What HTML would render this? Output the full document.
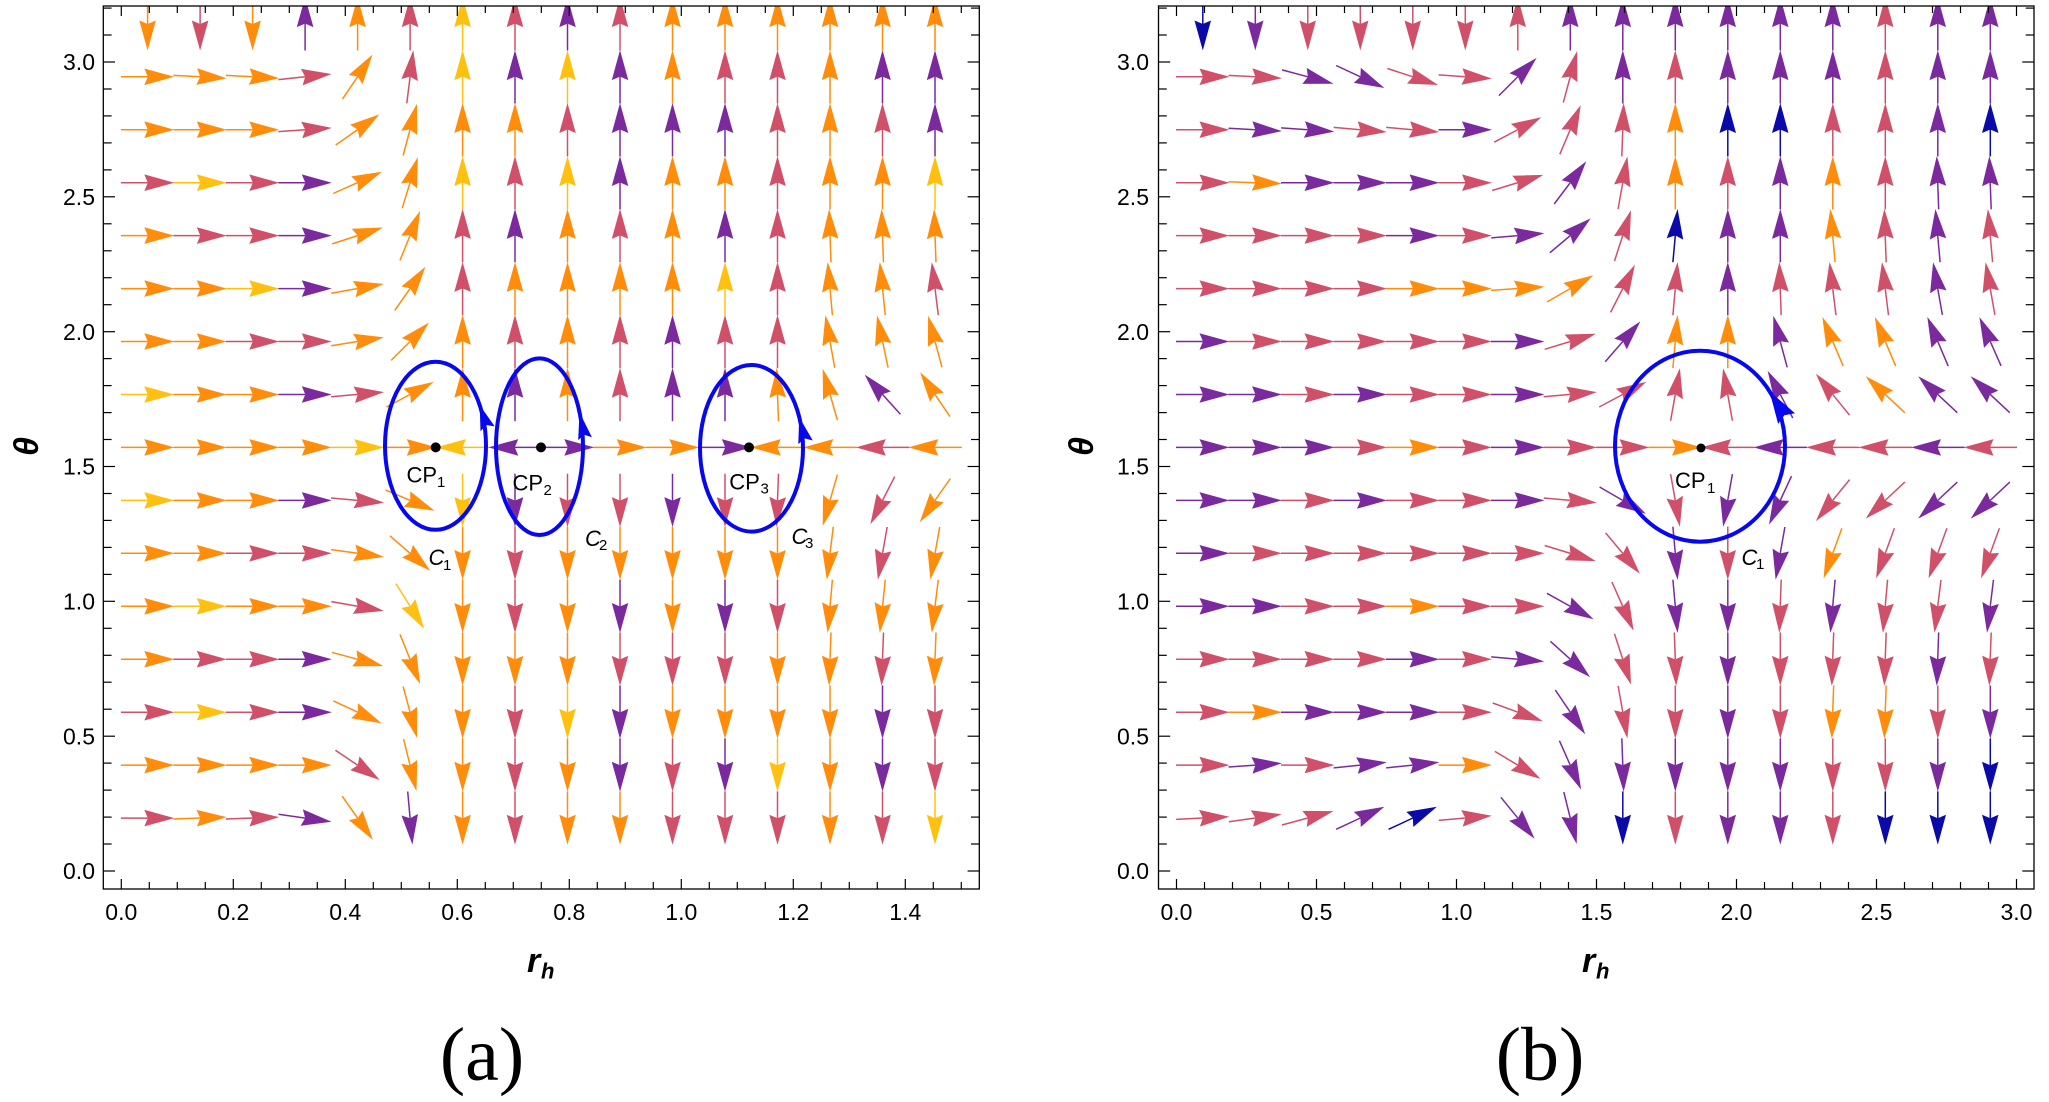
<!DOCTYPE html>
<html><head><meta charset="utf-8">
<style>
html,body{margin:0;padding:0;background:#fff;}
svg{display:block;}
.t{font-family:"Liberation Sans",sans-serif;font-size:23px;fill:#000;}
.l{font-family:"Liberation Sans",sans-serif;fill:#000;}
.cap{font-family:"Liberation Serif",serif;font-size:76px;fill:#000;}
</style></head><body>
<svg id="s" width="2049" height="1102" viewBox="0 0 2049 1102" xmlns="http://www.w3.org/2000/svg">
<defs>
<clipPath id="ca"><rect x="103.3" y="6" width="876" height="883"/></clipPath>
<clipPath id="cb"><rect x="1158.5" y="6" width="875.5" height="883"/></clipPath>
</defs>
<rect width="2049" height="1102" fill="#fff"/>
<g id="ga" clip-path="url(#ca)"></g>
<g id="gb" clip-path="url(#cb)"></g>
<g id="ticks" stroke="#000" stroke-width="1.2"></g>
<rect x="103.3" y="6" width="876" height="883" fill="none" stroke="#000" stroke-width="1.3"/>
<rect x="1158.5" y="6" width="875.5" height="883" fill="none" stroke="#000" stroke-width="1.3"/>

<!-- contours -->
<g fill="none" stroke="#0808ee" stroke-width="4">
<ellipse cx="435.5" cy="445.8" rx="50.5" ry="84"/>
<ellipse cx="539.5" cy="446.7" rx="43.5" ry="88.3"/>
<ellipse cx="751.5" cy="448.3" rx="51.5" ry="83.3"/>
<ellipse cx="1700" cy="446.2" rx="85" ry="95.5"/>
</g>
<g id="heads" fill="#0808ee"></g>
<g fill="#000">
<circle cx="435.7" cy="447.4" r="5"/>
<circle cx="541" cy="447.4" r="5"/>
<circle cx="749" cy="447.4" r="5"/>
<circle cx="1701" cy="448" r="4.5"/>
</g>

<!-- CP labels -->
<text class="l" x="406.5" y="482.7" font-size="22">CP</text><text class="l" x="437" y="487" font-size="15">1</text>
<text class="l" x="512.5" y="490.7" font-size="22">CP</text><text class="l" x="543.5" y="495" font-size="15">2</text>
<text class="l" x="729.3" y="489.3" font-size="22">CP</text><text class="l" x="760.5" y="493.5" font-size="15">3</text>
<text class="l" x="1675" y="488" font-size="22">CP</text><text class="l" x="1707" y="493" font-size="15">1</text>
<!-- C labels -->
<text class="l" x="428.5" y="565" font-size="22" font-style="italic">C</text><text class="l" x="443" y="570" font-size="15">1</text>
<text class="l" x="585" y="546" font-size="22" font-style="italic">C</text><text class="l" x="599" y="550" font-size="15">2</text>
<text class="l" x="791.5" y="544" font-size="22" font-style="italic">C</text><text class="l" x="805" y="548" font-size="15">3</text>
<text class="l" x="1741.5" y="565" font-size="22" font-style="italic">C</text><text class="l" x="1756" y="569" font-size="15">1</text>

<!-- y tick labels -->
<g class="t" text-anchor="end">
<text x="95" y="879.2">0.0</text><text x="95" y="744.4">0.5</text><text x="95" y="609.5">1.0</text><text x="95" y="474.7">1.5</text><text x="95" y="339.9">2.0</text><text x="95" y="205">2.5</text><text x="95" y="70.2">3.0</text>
<text x="1149" y="879.2">0.0</text><text x="1149" y="744.4">0.5</text><text x="1149" y="609.5">1.0</text><text x="1149" y="474.7">1.5</text><text x="1149" y="339.9">2.0</text><text x="1149" y="205">2.5</text><text x="1149" y="70.2">3.0</text>
</g>
<!-- x tick labels -->
<g class="t" text-anchor="middle">
<text x="121.3" y="920">0.0</text><text x="233.3" y="920">0.2</text><text x="345.3" y="920">0.4</text><text x="457.3" y="920">0.6</text><text x="569.3" y="920">0.8</text><text x="681.3" y="920">1.0</text><text x="793.3" y="920">1.2</text><text x="905.3" y="920">1.4</text>
<text x="1176.5" y="920">0.0</text><text x="1316.5" y="920">0.5</text><text x="1456.5" y="920">1.0</text><text x="1596.5" y="920">1.5</text><text x="1736.5" y="920">2.0</text><text x="1876.5" y="920">2.5</text><text x="2016.5" y="920">3.0</text>
</g>
<!-- axis labels -->
<text class="l" transform="translate(25,446.5) rotate(-90)" x="0" y="13" font-size="34" font-weight="bold" font-style="italic" text-anchor="middle">θ</text>
<text class="l" transform="translate(1080,446.5) rotate(-90)" x="0" y="13" font-size="34" font-weight="bold" font-style="italic" text-anchor="middle">θ</text>
<text class="l" x="527" y="972" font-size="34" font-weight="bold" font-style="italic">r</text><text class="l" x="541" y="978.3" font-size="22" font-weight="bold" font-style="italic">h</text>
<text class="l" x="1582" y="972" font-size="34" font-weight="bold" font-style="italic">r</text><text class="l" x="1596" y="978.3" font-size="22" font-weight="bold" font-style="italic">h</text>
<!-- captions -->
<text class="cap" x="482" y="1080" text-anchor="middle">(a)</text>
<text class="cap" x="1540" y="1080" text-anchor="middle">(b)</text>
</svg>
<script>
(function(){
const NS='http://www.w3.org/2000/svg';
const COL={o:'#FF8C0A',y:'#FFC00F',p:'#D0506A',u:'#7B2A9E',b:'#0A0AA8'};
function el(tag,attrs,parent){const e=document.createElementNS(NS,tag);for(const k in attrs)e.setAttribute(k,attrs[k]);parent.appendChild(e);return e;}
function f(v){return v.toFixed(1);}
function arrow(g,cx,cy,ang,col){
  const r=ang*Math.PI/180, dx=Math.cos(r), dy=-Math.sin(r), nx=-dy, ny=dx;
  const H=26.7, tx=cx+H*dx, ty=cy+H*dy, bx=cx-H*dx, by=cy-H*dy;
  const hl=30, hw=8.3, nd=26.5;
  el('line',{x1:f(bx),y1:f(by),x2:f(tx-nd*dx),y2:f(ty-nd*dy),stroke:col,'stroke-width':1.5},g);
  const p=[[tx,ty],[tx-hl*dx+hw*nx,ty-hl*dy+hw*ny],[tx-nd*dx,ty-nd*dy],[tx-hl*dx-hw*nx,ty-hl*dy-hw*ny]];
  el('polygon',{points:p.map(q=>f(q[0])+','+f(q[1])).join(' '),fill:col},g);
}
const V=(a,b)=>Array(b).fill(a);
const A_a=[
 [-90,-90,-90,90,90,90,90,90,90,90,90,90,90,90,90,90],
 [0,-3,-3,6,56,83,90,90,90,90,90,90,90,90,90,90],
 [0,0,0,4,35,75,90,90,90,90,90,90,90,90,90,90],
 [0,0,0,0,24,73,90,90,90,90,90,90,90,90,90,90],
 [0,0,0,0,18,68,90,90,90,90,90,90,90,92,92,92],
 [0,0,0,0,10,55,90,90,90,90,90,90,90,95,96,97],
 [0,0,0,0,9,45,90,90,90,90,90,90,90,100,102,105],
 [0,0,0,0,5,28,90,90,90,90,90,90,92,106,132,124],
 [0,0,0,0,0,0,180,180,0,0,0,0,180,180,180,180],
 [0,0,0,0,-5,-23,-90,-90,-90,-90,-90,-90,-92,-106,-117,-125],
 [0,0,0,0,-8,-41,-90,-90,-90,-90,-90,-90,-90,-97,-100,-100],
 [0,0,0,0,-10,-58,-90,-90,-90,-90,-90,-90,-90,-95,-96,-97],
 [0,0,0,0,-15,-68,-90,-90,-90,-90,-90,-90,-90,-92,-92,-92],
 [0,0,0,0,-25,-75].concat(V(-90,10)),
 [0,0,0,0,-34,-76].concat(V(-90,10)),
 [0,2,2,-8,-55,-85].concat(V(-90,10))
];
const C_a=["opouopypupoooooo","ooopopyuyuoppouu","ooopoooopuuupopu","pypuooypyuoopooy",
 "oppuoopuopoupooo","ooyuoopooooypoop","ooppooopopuppooo","yooupoouopuuoouo",
 "ooooyoyuuoouoopo","yooupoyuppuppopo","ooppooopoooooopo","oyoopyopououpooo",
 "oppuooooopppoopo","pypuooopyuooooup","oooopoopoupuyoup","popuouopoopppopy"];
const A_b=[
 V(-90,6).concat(V(90,10)),
 [0,-3,-15,-25,-18,-4,45,75,90,90,90,90,90,90,90,90],
 [0,-3,-4,-5,-5,0,28,67,88,90,90,90,90,90,90,90],
 [0,-2,0,0,0,0,17,53,80,90,90,90,90,90,92,92],
 [0,0,0,0,0,0,5,40,72,85,90,90,95,92,95,95],
 [0,0,0,0,0,0,4,30,63,85,90,92,97,97,100,100],
 [0,0,0,0,0,0,0,17,49,85,90,105,113,113,113,114],
 [0,0,0,0,0,0,0,5,28,80,100,118,129,137,137,137],
 V(0,10).concat(V(180,6)),
 [0,0,0,0,0,0,0,-5,-30,-80,-100,-115,-129,-137,-137,-137],
 [0,0,0,0,0,0,0,-17,-50,-85,-90,-100,-110,-110,-110,-110],
 [0,0,0,0,0,0,0,-29,-66,-85,-90,-92,-95,-95,-97,-97],
 [0,0,0,0,0,0,-5,-42,-72,-88,-90,-90,-92,-92,-92,-92],
 [0,0,0,0,0,0,-20,-56,-80,-90,-90,-90,-92,-92,-90,-90],
 [0,4,0,6,6,0,-31,-66,-88,-90,-90,-90,-90,-90,-90,-90],
 [3,8,15,25,25,5,-51,-76,-90,-90,-90,-90,-90,-90,-90,-90]
];
const C_b=["bupppppuuuuuupuu","ppuuppupupuuupuu","puuppupppobbppub","pouuuppupopuopuu",
 "ppppupuupbuuopup","ppppooooppupppup","upppppupuoouoouu","uupuppuppppupouu",
 "uuupopuppopuppup","uupuppupupuuppuu","uppppppppupuoppp","uuppoppupuupuppu",
 "ppppupuuppupppup","pouuuppuppupoopu","pupuuopuuuuuppub","pppubpuubpuupbbb"];
function panel(gid,x0,A,C){
  const g=document.getElementById(gid);
  for(let i=0;i<16;i++){
    const k=16-i, y=871-k*52.949;
    for(let c=0;c<16;c++){
      const x=x0+(c+0.5)*52.5;
      arrow(g,x,y,A[i][c],COL[C[i][c]]||COL.o);
    }
  }
}
panel('ga',121.3,A_a,C_a);
panel('gb',1176.5,A_b,C_b);

// ticks
const T=document.getElementById('ticks');
function ln(x1,y1,x2,y2){el('line',{x1:f(x1),y1:f(y1),x2:f(x2),y2:f(y2)},T);}
function yt(L,R){
  for(let i=0;i<=32;i++){const y=871-26.967*i;if(y<6)break;const len=(i%5==0)?11.7:8.3;ln(L,y,L+len,y);ln(R,y,R-len,y);}
}
yt(103.3,979.3); yt(1158.5,2034);
for(let i=0;i<=30;i++){const x=121.3+28*i;const len=(i%4==0)?10:7;ln(x,889,x,889-len);ln(x,6,x,6+len);}
for(let i=0;i<=30;i++){const x=1176.5+28*i;const len=(i%5==0)?10:7;ln(x,889,x,889-len);ln(x,6,x,6+len);}

// contour arrowheads
const HG=document.getElementById('heads');
function eh(cx,cy,rx,ry,td,L,hw){
  const t=td*Math.PI/180;
  const px=cx+rx*Math.cos(t), py=cy-ry*Math.sin(t);
  let tx=-rx*Math.sin(t), ty=-ry*Math.cos(t); const n=Math.hypot(tx,ty); tx/=n; ty/=n;
  const nx=-ty, ny=tx;
  const bx=px-L*tx, by=py-L*ty, mx=px-(L-4)*tx, my=py-(L-4)*ty;
  el('polygon',{points:[[px,py],[bx+hw*nx,by+hw*ny],[mx,my],[bx-hw*nx,by-hw*ny]].map(q=>f(q[0])+','+f(q[1])).join(' ')},HG);
}
eh(435.5,445.8,50.5,84,29,25,7.5);
eh(539.5,446.7,43.5,88.3,23,27,7);
eh(751.5,448.3,51.5,83.3,22,26,7.5);
eh(1700,446.2,85,95.5,35,32,10);
})();
</script>
</body></html>
